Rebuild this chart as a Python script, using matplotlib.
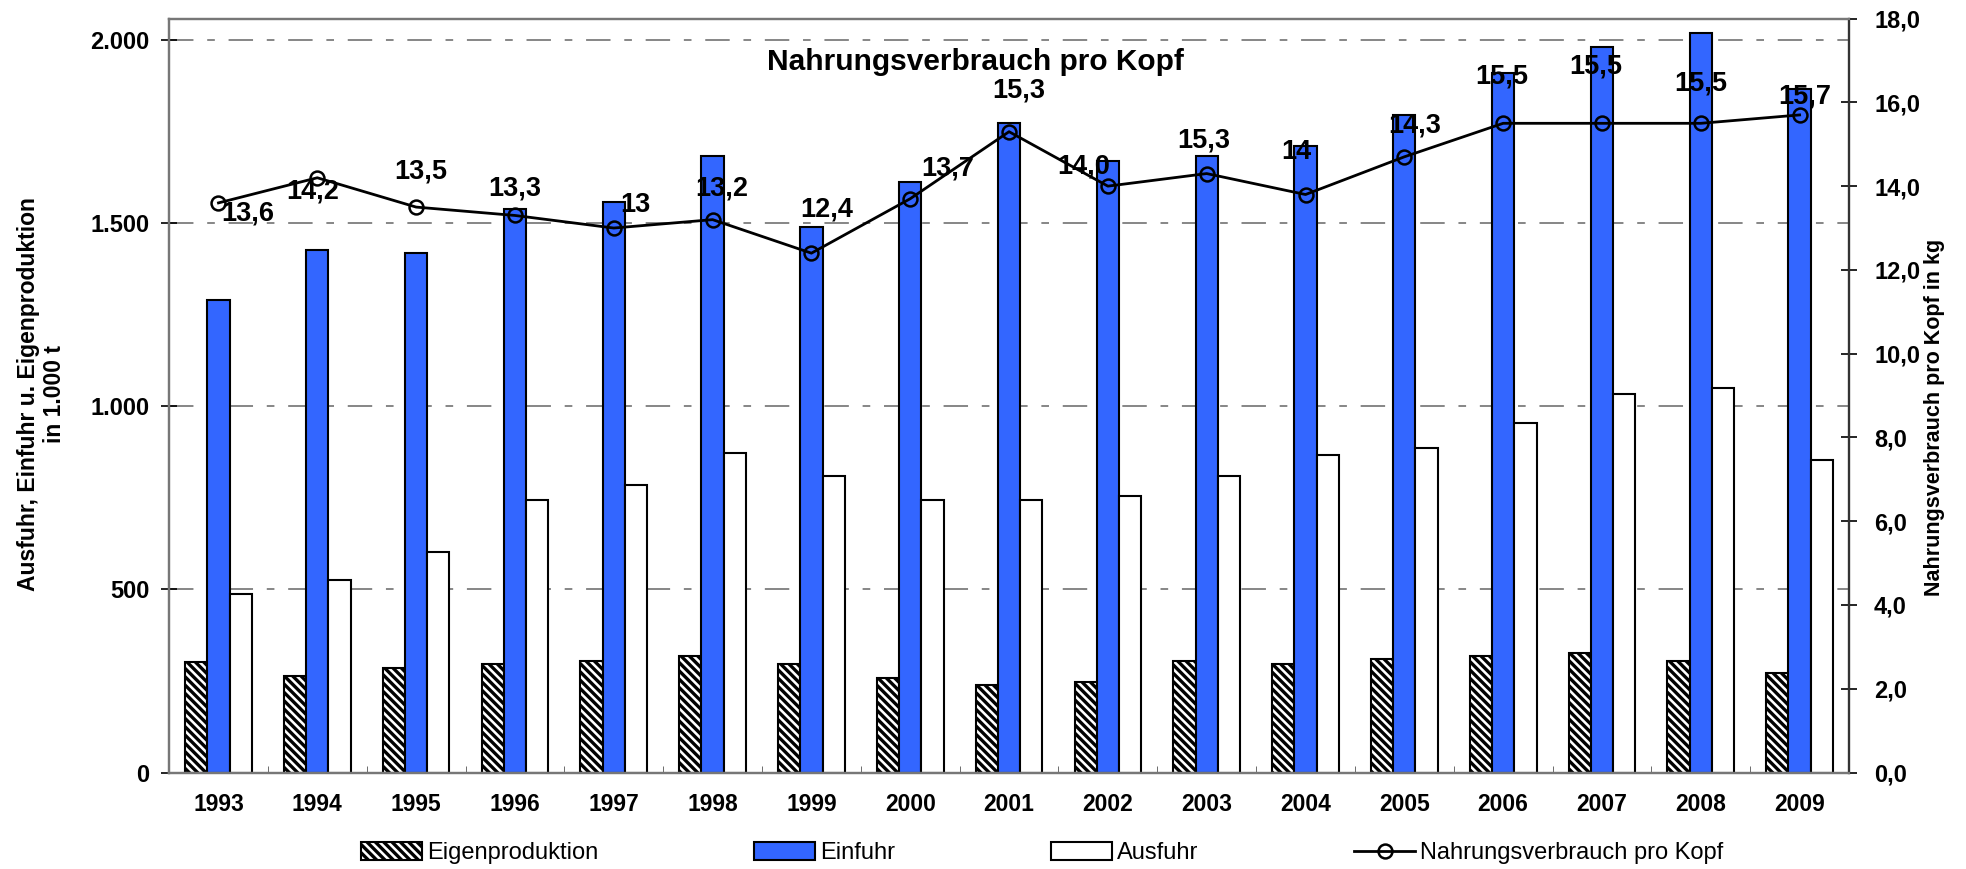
import numpy as np
import matplotlib
matplotlib.use('Agg')
from matplotlib import pyplot as plt
from matplotlib.ticker import FuncFormatter, FixedLocator

years = ['1993', '1994', '1995', '1996', '1997', '1998', '1999', '2000', '2001',
         '2002', '2003', '2004', '2005', '2006', '2007', '2008', '2009']
eigenproduktion = [303, 265, 286, 297, 304, 319, 297, 259, 239, 248, 304, 297,
                   310, 317, 326, 304, 271]
einfuhr = [1290, 1428, 1418, 1538, 1557, 1684, 1491, 1614, 1774, 1669, 1684,
           1711, 1796, 1910, 1981, 2019, 1866]
ausfuhr = [488, 526, 602, 745, 785, 872, 810, 744, 744, 755, 811, 867,
           886, 954, 1033, 1049, 854]
verbrauch = [13.6, 14.2, 13.5, 13.3, 13.0, 13.2, 12.4, 13.7, 15.3, 14.0, 14.3,
             13.8, 14.7, 15.5, 15.5, 15.5, 15.7]
verbrauch_labels = ['13,6', '14,2', '13,5', '13,3', '13', '13,2', '12,4', '13,7',
                    '15,3', '14,0', '15,3', '14', '14,3', '15,5', '15,5', '15,5', '15,7']

# label placement (pixel offsets from the point), as in the original
label_offsets = [(29, -11), (-5, -14), (5, 36), (0, 27), (22, 23), (9, 31),
                 (15, 44), (38, 30), (10, 41), (-24, 20), (-3, 33), (-9, 43),
                 (10, 31), (-1, 47), (-6, 57), (0, 40), (5, 18)]

plt.rcParams['font.family'] = ['Liberation Sans', 'DejaVu Sans']
plt.rcParams['hatch.linewidth'] = 2.4

fig = plt.figure(figsize=(19.66, 8.69), dpi=100)
ax = fig.add_axes([0.086, 0.111, 0.8545, 0.8676])
ax2 = ax.twinx()

x = np.arange(len(years))
w = 0.225
ax.bar(x - w, eigenproduktion, w, facecolor='white', edgecolor='black',
       hatch='\\\\\\\\', linewidth=1.5, label='Eigenproduktion', zorder=2)
ax.bar(x, einfuhr, w, facecolor='#3366FF', edgecolor='black', linewidth=1.5,
       label='Einfuhr', zorder=2)
ax.bar(x + w, ausfuhr, w, facecolor='white', edgecolor='black', linewidth=1.5,
       label='Ausfuhr', zorder=2)

ax.set_xlim(-0.5, len(years) - 0.5)
ax.set_ylim(0, 2059)
ax.set_yticks([0, 500, 1000, 1500, 2000])
ax.yaxis.set_major_formatter(FuncFormatter(lambda v, p: f'{v:,.0f}'.replace(',', '.')))
ax.grid(axis='y', color='#666666', linewidth=1.1, dashes=(16, 9, 5, 9))
ax.set_axisbelow(True)

ax.set_xticks(x)
ax.set_xticklabels(years, fontsize=16.5, fontweight='bold')
ax.xaxis.set_minor_locator(FixedLocator(np.arange(0.5, len(years) - 1, 1)))
ax.tick_params(axis='x', which='major', length=0, pad=15)
ax.tick_params(axis='x', which='minor', direction='in', length=5, color='#555555')
ax.tick_params(axis='y', direction='inout', length=12, width=1.2, labelsize=17, pad=8)
for t in ax.get_yticklabels():
    t.set_fontweight('bold')

ax2.plot(x, verbrauch, color='black', linewidth=2, marker='o', markersize=10,
         markerfacecolor='none', markeredgewidth=1.8, label='Nahrungsverbrauch pro Kopf')
ax2.set_ylim(0, 18)
ax2.set_yticks(np.arange(0, 19, 2))
ax2.yaxis.set_major_formatter(FuncFormatter(lambda v, p: f'{v:.1f}'.replace('.', ',')))
ax2.tick_params(axis='y', direction='inout', length=12, width=1.2, labelsize=17, pad=12)
for t in ax2.get_yticklabels():
    t.set_fontweight('bold')

for xi, yi, txt, off in zip(x, verbrauch, verbrauch_labels, label_offsets):
    ax2.annotate(txt, (xi, yi), xytext=off, textcoords='offset pixels',
                 ha='center', va='center', fontsize=19.5, fontweight='bold')

for a in (ax, ax2):
    for s in a.spines.values():
        s.set_color('#777777')
        s.set_linewidth(1.6)
ax2.spines['right'].set_color('#333333')

ax.text(0.48, 0.942, 'Nahrungsverbrauch pro Kopf', transform=ax.transAxes,
        ha='center', va='center', fontsize=21.5, fontweight='bold')

fig.text(0.021, 0.547, 'Ausfuhr, Einfuhr u. Eigenproduktion\nin 1.000 t', rotation=90,
         ha='center', va='center', fontsize=16.5, fontweight='bold', linespacing=1.15)
fig.text(0.984, 0.52, 'Nahrungsverbrauch pro Kopf in kg', rotation=90,
         ha='center', va='center', fontsize=15.5, fontweight='bold')

h1, l1 = ax.get_legend_handles_labels()
h2, l2 = ax2.get_legend_handles_labels()
fig.legend(h1 + h2, l1 + l2, loc='center', bbox_to_anchor=(0.53, 0.018), ncol=4,
           frameon=False, prop={'size': 17}, columnspacing=6.6,
           handlelength=2.6, handletextpad=0.2, handleheight=0.8)

fig.savefig('out.png', dpi=100)
